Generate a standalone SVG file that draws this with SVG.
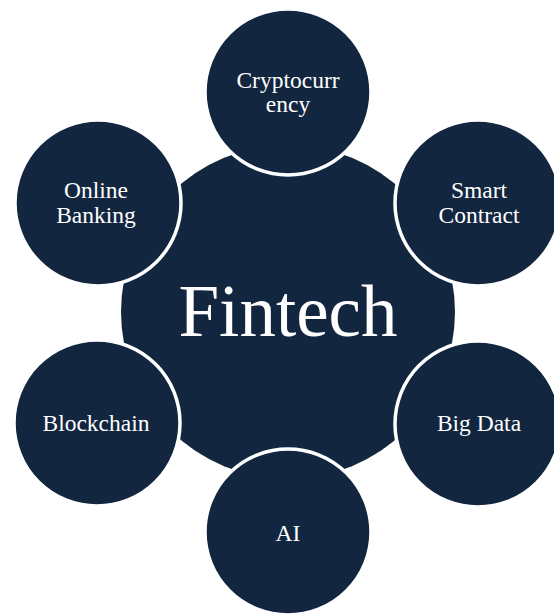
<svg xmlns="http://www.w3.org/2000/svg" width="554" height="615" viewBox="0 0 554 615">
<style>
.hub{fill:#12263F}
.sat{fill:#12263F;stroke:#FFFFFF;stroke-width:3.5}
text{font-family:"Liberation Serif","Times New Roman",serif;fill:#FFFFFF;text-anchor:middle}
.s{font-size:23.5px}
.big{font-size:73px}
</style>
<rect width="554" height="615" fill="#FFFFFF"/>
<g id="connectors"></g>
<g id="fintech">
<circle class="hub" cx="288" cy="312" r="167"/>
<text class="big" x="288" y="336">Fintech</text>
</g>
<g id="cryptocurrency">
<circle class="sat" cx="288" cy="92" r="83"/>
<text class="s" x="288" y="88">Cryptocurr</text>
<text class="s" x="288" y="112">ency</text>
</g>
<g id="smart-contract">
<circle class="sat" cx="478" cy="203" r="83"/>
<text class="s" x="479" y="198">Smart</text>
<text class="s" x="479" y="223">Contract</text>
</g>
<g id="big-data">
<circle class="sat" cx="478" cy="424" r="83"/>
<text class="s" x="479" y="431">Big Data</text>
</g>
<g id="ai">
<circle class="sat" cx="288" cy="532" r="83"/>
<text class="s" x="288" y="541">AI</text>
</g>
<g id="blockchain">
<circle class="sat" cx="97" cy="423" r="83"/>
<text class="s" x="96" y="431">Blockchain</text>
</g>
<g id="online-banking">
<circle class="sat" cx="98" cy="203" r="83"/>
<text class="s" x="96" y="198">Online</text>
<text class="s" x="96" y="223">Banking</text>
</g>
</svg>
